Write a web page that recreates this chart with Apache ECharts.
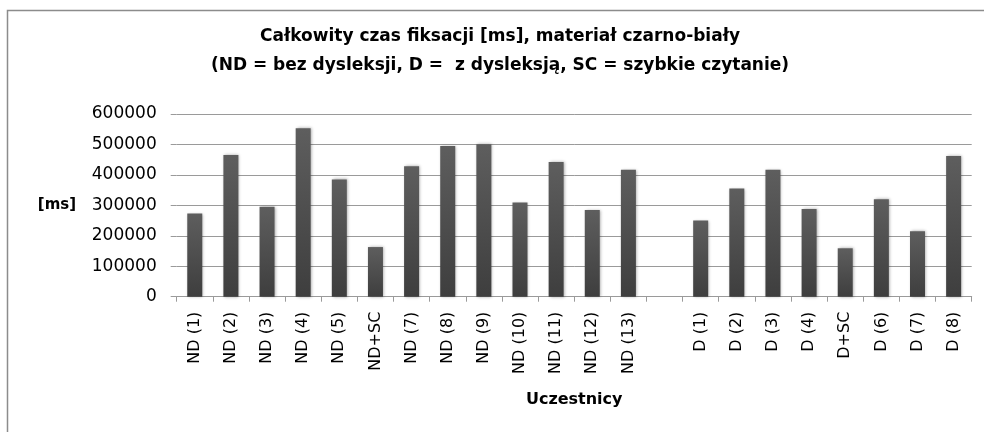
<!DOCTYPE html>
<html>
<head>
<meta charset="utf-8">
<script src="https://cdn.jsdelivr.net/npm/echarts@6/dist/echarts.min.js"></script>
<style>html,body{margin:0;padding:0;background:#fff}#c{width:984px;height:432px}</style>
</head>
<body>
<div id="c"></div>
<script>
const titleLine1 = 'Całkowity czas fiksacji [ms], materiał czarno-biały';
const titleLine2 = '(ND = bez dysleksji, D =  z dysleksją, SC = szybkie czytanie)';
const yAxisTitle = '[ms]';
const xAxisTitle = 'Uczestnicy';
const categories = ['ND (1)','ND (2)','ND (3)','ND (4)','ND (5)','ND+SC','ND (7)','ND (8)','ND (9)','ND (10)','ND (11)','ND (12)','ND (13)','',
  'D (1)','D (2)','D (3)','D (4)','D+SC','D (6)','D (7)','D (8)'];
const values = [273000,465000,295000,553000,385000,163000,428000,495000,501000,309000,442000,285000,417000,null,
  250000,355000,417000,288000,159000,320000,215000,462000];
const yMin = 0, yMax = 600000, yStep = 100000;

const chart = echarts.init(document.getElementById('c'), null, {renderer:'canvas'});
const FONT = 'DejaVu Sans';
chart.setOption({
  animation:false,
  backgroundColor:'#ffffff',
  graphic:[
    {type:'rect', z:-1, silent:true, shape:{x:7.5,y:10.5,width:1100,height:600},
     style:{fill:'none', stroke:'#8c8c8c', lineWidth:1.5}},
    {type:'text', x:500, y:37, style:{text:titleLine1, font:'bold 17px "DejaVu Sans"', fill:'#000', textAlign:'center', textVerticalAlign:'middle'}},
    {type:'text', x:500, y:66, style:{text:titleLine2, font:'bold 17px "DejaVu Sans"', fill:'#000', textAlign:'center', textVerticalAlign:'middle'}},
    {type:'text', x:57, y:205, style:{text:yAxisTitle, font:'bold 15px "DejaVu Sans"', fill:'#000', textAlign:'center', textVerticalAlign:'middle'}}
  ],
  grid:{left:176.7, right:12.3, top:114, bottom:135.3, containLabel:false},
  xAxis:{
    type:'category', data:categories, boundaryGap:true,
    name:xAxisTitle, nameLocation:'middle', nameGap:95,
    nameTextStyle:{fontFamily:FONT, fontWeight:'bold', fontSize:16, color:'#000'},
    axisLine:{show:true, lineStyle:{color:'#9a9a9a', width:1}},
    axisTick:{show:true, length:5, alignWithLabel:false, lineStyle:{color:'#9a9a9a'}},
    axisLabel:{rotate:90, interval:0, margin:15, fontFamily:FONT, fontSize:16, color:'#000'}
  },
  yAxis:{
    type:'value', min:yMin, max:yMax, interval:yStep,
    axisLine:{show:false},
    axisTick:{show:true, length:6, lineStyle:{color:'#9a9a9a'}},
    axisLabel:{margin:20, fontFamily:FONT, fontSize:17, color:'#000', formatter:function(v){return String(v);}},
    splitLine:{show:true, lineStyle:{color:'#9a9a9a', width:1}}
  },
  series:[{
    type:'bar', data:values, barWidth:15,
    itemStyle:{
      color:new echarts.graphic.LinearGradient(0,0,0,1,[{offset:0,color:'#5e5e5e'},{offset:1,color:'#3e3e3e'}]),
      shadowBlur:3, shadowColor:'rgba(0,0,0,0.35)', shadowOffsetX:1, shadowOffsetY:0
    }
  }]
});
</script>
</body>
</html>
